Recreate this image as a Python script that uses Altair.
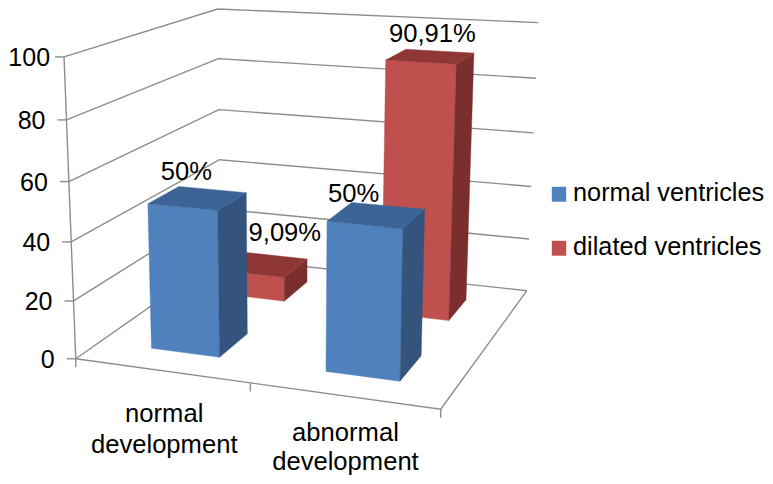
import altair as alt
import numpy as np
import pandas as pd

# ---- chart content -------------------------------------------------------
categories = [["normal", "development"], ["abnormal", "development"]]
series = ["normal ventricles", "dilated ventricles"]
values = [[50, 50], [9.09, 90.91]]            # series x category
value_labels = [["50%", "50%"], ["9,09%", "90,91%"]]
y_ticks = [0, 20, 40, 60, 80, 100]

# ---- look ---------------------------------------------------------------
face_colors = [
    {"front": "#4F81BD", "side": "#34547E", "top": "#3D6496"},
    {"front": "#C0504D", "side": "#7A2F2E", "top": "#8E3735"},
]
GRID = "#8C8C8C"
FONT = "Liberation Sans"
FS = 25.6

# camera that projects (category pos, depth pos, value/100) on to the page
CAMERA = np.array([
    [328.58049, 192.42929, -15.04567, 75.7546],
    [16.55895, -46.08058, -304.84675, 358.78685],
    [-0.08257, 0.21529, -0.05211, 1.0],
])
cat_pos = [0.25, 0.75]
ser_pos = [0.245, 0.75]
ser_shift = [0.004, 0.0]
HALF_W = 0.1
HALF_D = 0.1
label_offset = [[(-10, -18), (-21.5, -13)], [(20, -24), (2, -15)]]
cat_label_dy = [[51, 82], [45, 74]]
cat_label_dx = [3, 2]


def proj(u, v, h):
    w = CAMERA @ np.array([u, v, h / 100.0, 1.0])
    return [float(w[0] / w[2]), float(w[1] / w[2])]


def poly(pts, fill):
    return {"type": "Feature",
            "geometry": {"type": "Polygon", "coordinates": [pts + [pts[0]]]},
            "properties": {"fill": fill}}


def line(pts):
    return {"type": "Feature",
            "geometry": {"type": "LineString", "coordinates": pts},
            "properties": {}}


# ---- walls, floor, ticks ------------------------------------------------
lines = []
for t in y_ticks:
    corner = proj(0, 1, t)
    corner[1] = max(corner[1], 9.0)      # page top edge would clip the apex
    lines.append(line([proj(0, 0, t), corner, proj(1, 1, t)]))
    p = proj(0, 0, t)
    lines.append(line([[p[0] - 9, p[1]], p]))
lines.append(line([proj(0, 0, 0), proj(0, 0, 100)]))
lines.append(line([proj(0, 0, 0), proj(1, 0, 0), proj(1, 1, 0)]))
for u in [0, 0.5, 1]:
    p = proj(u, 0, 0)
    lines.append(line([p, [p[0], p[1] + 8.5]]))

# ---- bars, back row first -----------------------------------------------
faces = []
for s in [1, 0]:
    for c in range(len(cat_pos)):
        h = values[s][c]
        u0, u1 = cat_pos[c] + ser_shift[s] - HALF_W, cat_pos[c] + ser_shift[s] + HALF_W
        v0, v1 = ser_pos[s] - HALF_D, ser_pos[s] + HALF_D
        col = face_colors[s]
        faces.append(poly([proj(u0, v0, 0), proj(u1, v0, 0), proj(u1, v0, h), proj(u0, v0, h)], col["front"]))
        faces.append(poly([proj(u1, v0, 0), proj(u1, v1, 0), proj(u1, v1, h), proj(u1, v0, h)], col["side"]))
        faces.append(poly([proj(u0, v0, h), proj(u1, v0, h), proj(u1, v1, h), proj(u0, v1, h)], col["top"]))

# ---- legend swatches ----------------------------------------------------
legend_x, legend_w, legend_y, legend_h = 552, 14, [187, 241], 14.5
for i, name in enumerate(series):
    y = legend_y[i]
    faces.append(poly([[legend_x, y], [legend_x + legend_w, y],
                       [legend_x + legend_w, y + legend_h], [legend_x, y + legend_h]],
                      face_colors[i]["front"]))

# ---- texts ---------------------------------------------------------------
tick_rows = []
for t in y_ticks:
    p = proj(0, 0, t)
    right = p[0] - 21
    if t == 100:
        right += 7                       # keep the whole label on the page
    tick_rows.append({"x": right, "y": p[1] + 9, "t": str(t)})

center_rows = []
for c, lines_txt in enumerate(categories):
    p = proj(cat_pos[c], 0, 0)
    for k, txt in enumerate(lines_txt):
        center_rows.append({"x": p[0] + cat_label_dx[c], "y": p[1] + cat_label_dy[c][k], "t": txt})
for s in range(2):
    for c in range(2):
        p = proj(cat_pos[c], ser_pos[s], values[s][c])
        dx, dy = label_offset[s][c]
        center_rows.append({"x": p[0] + dx, "y": p[1] + dy, "t": value_labels[s][c]})

legend_rows = [{"x": legend_x + 21, "y": legend_y[i] + 14, "t": series[i]} for i in range(2)]

PROJ = dict(type="identity", scale=1, translate=[-8, -8])

line_layer = alt.Chart(alt.Data(values=lines)).mark_geoshape(
    filled=False, stroke=GRID, strokeWidth=1.4).project(**PROJ)

face_layer = alt.Chart(alt.Data(values=faces)).mark_geoshape(strokeWidth=0.4).encode(
    fill=alt.Fill("properties.fill:N", scale=None),
    stroke=alt.Stroke("properties.fill:N", scale=None),
).project(**PROJ)


def text_layer(rows, align, size):
    return alt.Chart(pd.DataFrame(rows)).mark_text(
        align=align, baseline="alphabetic", font=FONT, fontSize=size, color="#000000"
    ).encode(longitude="x:Q", latitude="y:Q", text="t:N").project(**PROJ)


chart = alt.layer(
    line_layer, face_layer,
    text_layer(tick_rows, "right", 25),
    text_layer(center_rows, "center", FS),
    text_layer(legend_rows, "left", 25.3),
).properties(
    width=757, height=468, padding=0,
    autosize=alt.AutoSizeParams(type="none"),
    background="white",
).configure_view(stroke=None)

chart.save("out.html", embed_options={"renderer": "svg", "actions": False})
